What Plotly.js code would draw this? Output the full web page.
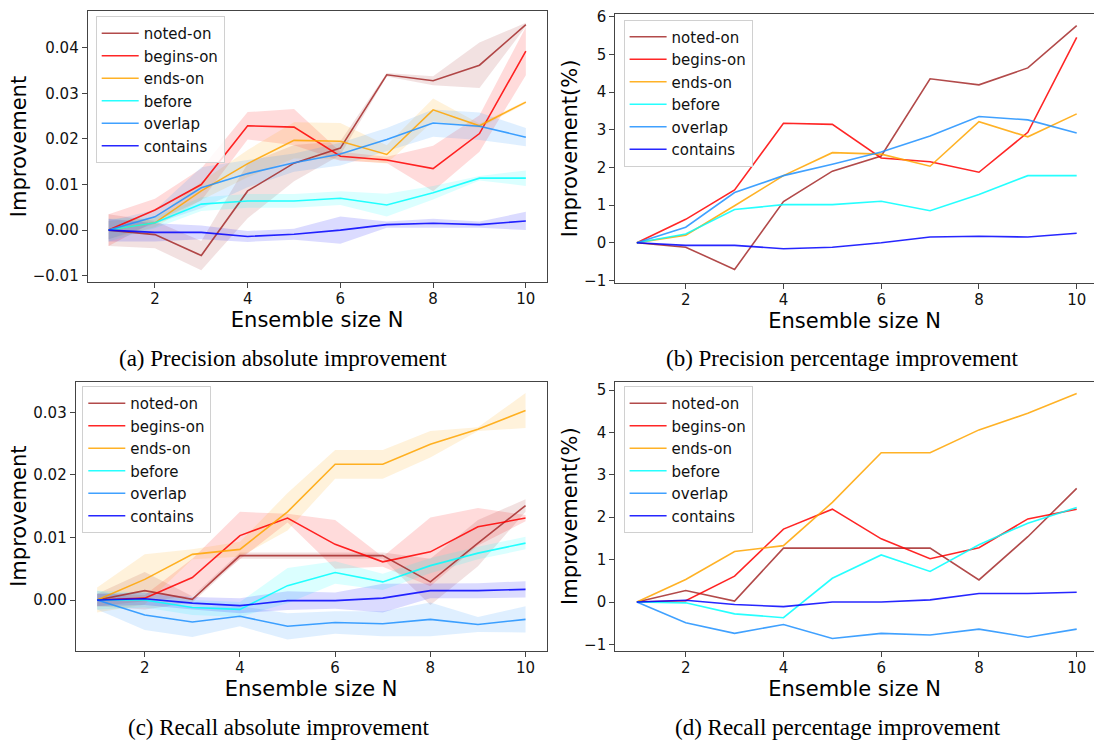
<!DOCTYPE html>
<html>
<head>
<meta charset="utf-8">
<script src="https://cdn.plot.ly/plotly-3.0.1.min.js"></script>
<style>html,body{margin:0;padding:0;background:#fff;}#chart{width:1094px;height:742px;}</style>
</head>
<body>
<div id="chart"></div>
<script>
// ---------- data ----------
const ensembleSize = [1, 2, 3, 4, 5, 6, 7, 8, 9, 10];
const relationNames = ['noted-on', 'begins-on', 'ends-on', 'before', 'overlap', 'contains'];
const xTickValues = [2, 4, 6, 8, 10];

// (a) Precision absolute improvement: mean per relation (rows follow relationNames)
const precisionAbsMean = [
  [0, -0.0010, -0.0056, 0.0086, 0.0147, 0.0180, 0.0341, 0.0328, 0.0362, 0.0451],
  [0, 0.0044, 0.0100, 0.0229, 0.0226, 0.0162, 0.0154, 0.0135, 0.0212, 0.0393],
  [0, 0.0016, 0.0086, 0.0146, 0.0197, 0.0195, 0.0166, 0.0264, 0.0229, 0.0281],
  [0, 0.0016, 0.0057, 0.0064, 0.0064, 0.0070, 0.0055, 0.0082, 0.0114, 0.0114],
  [0, 0.0029, 0.0093, 0.0124, 0.0148, 0.0167, 0.0199, 0.0235, 0.0228, 0.0204],
  [0, -0.0005, -0.0005, -0.0014, -0.0009, 0.0000, 0.0012, 0.0015, 0.0012, 0.0020]
];
// (a) half-width of the shaded band
const precisionAbsSpread = [
  [0.0035, 0.0030, 0.0032, 0.0060, 0.0040, 0.0015, 0.0004, 0.0010, 0.0050, 0.0004],
  [0.0035, 0.0025, 0.0035, 0.0030, 0.0040, 0.0010, 0.0007, 0.0050, 0.0040, 0.0053],
  [0.0020, 0.0010, 0.0020, 0.0030, 0.0040, 0.0040, 0.0020, 0.0025, 0.0005, 0.0003],
  [0.0025, 0.0012, 0.0015, 0.0015, 0.0015, 0.0015, 0.0025, 0.0015, 0.0005, 0.0017],
  [0.0020, 0.0015, 0.0045, 0.0030, 0.0020, 0.0025, 0.0025, 0.0030, 0.0030, 0.0020],
  [0.0025, 0.0020, 0.0015, 0.0012, 0.0012, 0.0030, 0.0007, 0.0010, 0.0007, 0.0020]
];
// (b) Precision percentage improvement
const precisionPct = [
  [0, -0.12, -0.71, 1.09, 1.90, 2.30, 4.35, 4.19, 4.64, 5.76],
  [0, 0.62, 1.40, 3.17, 3.14, 2.25, 2.15, 1.87, 2.93, 5.45],
  [0, 0.20, 0.98, 1.78, 2.39, 2.35, 2.03, 3.21, 2.81, 3.42],
  [0, 0.23, 0.88, 1.01, 1.01, 1.10, 0.85, 1.28, 1.78, 1.78],
  [0, 0.41, 1.33, 1.78, 2.08, 2.41, 2.83, 3.35, 3.26, 2.91],
  [0, -0.07, -0.07, -0.16, -0.12, 0.00, 0.15, 0.17, 0.15, 0.25]
];
// (c) Recall absolute improvement
const recallAbsMean = [
  [0, 0.0015, 0.0001, 0.0071, 0.0071, 0.0071, 0.0071, 0.0029, 0.0091, 0.0151],
  [0, 0.0003, 0.0036, 0.0103, 0.0131, 0.0089, 0.0061, 0.0077, 0.0117, 0.0131],
  [0, 0.0033, 0.0073, 0.0081, 0.0141, 0.0217, 0.0217, 0.0249, 0.0273, 0.0303],
  [0, 0.0000, -0.0012, -0.0015, 0.0023, 0.0044, 0.0029, 0.0055, 0.0075, 0.0091],
  [0, -0.0024, -0.0035, -0.0026, -0.0042, -0.0036, -0.0038, -0.0031, -0.0039, -0.0031],
  [0, 0.0002, -0.0005, -0.0009, -0.0001, -0.0001, 0.0003, 0.0015, 0.0015, 0.0017]
];
const recallAbsSpread = [
  [0.0010, 0.0030, 0.0005, 0.0005, 0.0005, 0.0005, 0.0005, 0.0037, 0.0037, 0.0010],
  [0.0010, 0.0005, 0.0030, 0.0038, 0.0007, 0.0039, 0.0008, 0.0055, 0.0030, 0.0005],
  [0.0020, 0.0040, 0.0008, 0.0012, 0.0030, 0.0023, 0.0023, 0.0021, 0.0003, 0.0028],
  [0.0015, 0.0012, 0.0012, 0.0012, 0.0028, 0.0018, 0.0013, 0.0012, 0.0010, 0.0010],
  [0.0015, 0.0024, 0.0024, 0.0016, 0.0021, 0.0018, 0.0020, 0.0027, 0.0012, 0.0021],
  [0.0010, 0.0010, 0.0010, 0.0012, 0.0015, 0.0013, 0.0023, 0.0012, 0.0012, 0.0013]
];
// (d) Recall percentage improvement
const recallPct = [
  [0, 0.27, 0.02, 1.27, 1.27, 1.27, 1.27, 0.52, 1.54, 2.68],
  [0, 0.03, 0.61, 1.72, 2.19, 1.49, 1.02, 1.28, 1.96, 2.19],
  [0, 0.53, 1.19, 1.33, 2.35, 3.52, 3.52, 4.06, 4.45, 4.92],
  [0, -0.02, -0.28, -0.37, 0.56, 1.11, 0.72, 1.35, 1.86, 2.23],
  [0, -0.49, -0.74, -0.53, -0.86, -0.74, -0.78, -0.64, -0.83, -0.64],
  [0, 0.04, -0.06, -0.11, 0.00, 0.00, 0.05, 0.20, 0.20, 0.23]
];

const captions = [
  '(a) Precision absolute improvement',
  '(b) Precision percentage improvement',
  '(c) Recall absolute improvement',
  '(d) Recall percentage improvement'
];

// ---------- style ----------
const W = 1094, H = 742;
const lineRGB = ['165,42,42', '255,0,0', '255,165,0', '0,255,255', '30,144,255', '0,0,255'];
const px = v => v / W;
const py = v => 1 - v / H;

const panels = [
  {mean: precisionAbsMean, spread: precisionAbsSpread, ax: '', leg: 'legend',
   xdom: [87.7, 546.7], ydom: [11, 282], yrange: [-0.0114, 0.0481], xrange: [0.55, 10.45],
   ytitle: 'Improvement', abs: true, legPos: [95.7, 16], cap: [283, 358], right: true},
  {mean: precisionPct, spread: null, ax: '2', leg: 'legend2',
   xdom: [615.2, 1094], ydom: [14, 282.7], yrange: [-1.062, 6.071], xrange: [0.557, 10.354],
   ytitle: 'Improvement(%)', abs: false, legPos: [623.6, 19.5], cap: [842, 358], right: false},
  {mean: recallAbsMean, spread: recallAbsSpread, ax: '3', leg: 'legend3',
   xdom: [75.7, 546.5], ydom: [381.7, 650.7], yrange: [-0.0081, 0.0349], xrange: [0.55, 10.44],
   ytitle: 'Improvement', abs: true, legPos: [82.3, 386], cap: [278, 727], right: true},
  {mean: recallPct, spread: null, ax: '4', leg: 'legend4',
   xdom: [615.2, 1094], ydom: [381.7, 650.7], yrange: [-1.149, 5.197], xrange: [0.557, 10.354],
   ytitle: 'Improvement(%)', abs: false, legPos: [623.6, 386], cap: [838, 727], right: false}
];

const traces = [];
const layout = {
  width: W, height: H,
  margin: {l: 0, r: 0, t: 0, b: 0},
  paper_bgcolor: '#fff', plot_bgcolor: '#fff',
  font: {family: 'DejaVu Sans', color: '#000'},
  annotations: []
};

panels.forEach((p, pi) => {
  const xa = 'x' + p.ax, ya = 'y' + p.ax;
  relationNames.forEach((name, si) => {
    const m = p.mean[si];
    if (p.spread) {
      const s = p.spread[si];
      const upper = m.map((v, i) => v + s[i]);
      const lower = m.map((v, i) => v - s[i]);
      traces.push({
        type: 'scatter', mode: 'lines', xaxis: xa, yaxis: ya,
        x: ensembleSize.concat(ensembleSize.slice().reverse()),
        y: upper.concat(lower.slice().reverse()),
        fill: 'toself', fillcolor: 'rgba(' + lineRGB[si] + ',0.14)',
        line: {width: 0, color: 'rgba(0,0,0,0)'},
        hoverinfo: 'skip', showlegend: false
      });
    }
  });
  relationNames.forEach((name, si) => {
    traces.push({
      type: 'scatter', mode: 'lines', xaxis: xa, yaxis: ya, legend: p.leg,
      name: name, x: ensembleSize, y: p.mean[si],
      line: {color: 'rgba(' + lineRGB[si] + ',0.85)', width: 1.6}
    });
  });

  const axCommon = {
    showline: true, linecolor: '#444', linewidth: 1, showgrid: false, zeroline: false,
    ticks: 'outside', ticklen: 5, tickwidth: 1, tickcolor: '#444',
    tickfont: {family: 'DejaVu Sans', size: 15, color: '#111'}
  };
  layout['xaxis' + p.ax] = Object.assign({}, axCommon, {
    domain: [px(p.xdom[0]), Math.min(1, px(p.xdom[1]))],
    anchor: ya, range: p.xrange, mirror: true,
    tickvals: xTickValues, ticktext: xTickValues.map(String),
    ticklabelstandoff: -2,
    title: {text: 'Ensemble size N', font: {family: 'DejaVu Sans', size: 21, color: '#000'}, standoff: 0}
  });
  layout['yaxis' + p.ax] = Object.assign({}, axCommon, {
    domain: [py(p.ydom[1]), py(p.ydom[0])],
    anchor: xa, range: p.yrange, mirror: p.right,
    dtick: p.abs ? 0.01 : 1, tick0: 0, tickformat: p.abs ? '.2f' : 'd',
    title: {text: p.ytitle, font: {family: 'DejaVu Sans', size: 21, color: '#000'}, standoff: 0}
  });
  layout[p.leg] = {
    x: px(p.legPos[0]), y: py(p.legPos[1]), xanchor: 'left', yanchor: 'top',
    xref: 'paper', yref: 'paper',
    bgcolor: 'rgba(255,255,255,0.85)', bordercolor: '#d0d0d0', borderwidth: 1,
    font: {family: 'DejaVu Sans', size: 15, color: '#111'},
    itemwidth: 37, tracegroupgap: 0
  };
  layout.annotations.push({
    text: captions[pi], xref: 'paper', yref: 'paper',
    x: px(p.cap[0]), y: py(p.cap[1]), xanchor: 'center', yanchor: 'middle',
    showarrow: false, font: {family: 'Liberation Serif', size: 23, color: '#000'}
  });
});

Plotly.newPlot('chart', traces, layout, {staticPlot: true, displayModeBar: false});
</script>
</body>
</html>
